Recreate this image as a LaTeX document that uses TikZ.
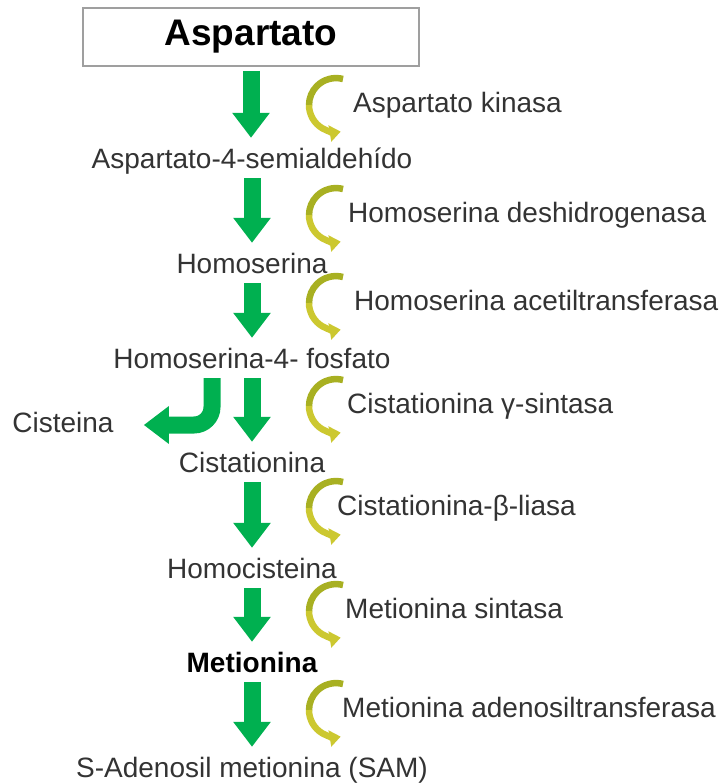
\documentclass[tikz,border=0pt]{standalone}
\usepackage{fontspec}
\setmainfont{Liberation Sans}
\usetikzlibrary{arrows.meta,calc}
\definecolor{flowgreen}{RGB}{0,176,80}
\definecolor{enzolive}{RGB}{168,176,34}
\definecolor{enzyellow}{RGB}{204,200,48}

\begin{document}
\begin{tikzpicture}[
    x=1pt, y=-1pt,
    metab/.style={inner sep=0pt, text height=20pt, text depth=6pt, text=black!80, font=\fontsize{28}{32}\selectfont},
    enz/.style={metab, anchor=base west},
    titlebox/.style={draw=gray!75, line width=1.5pt, inner sep=0pt, minimum width=336pt, minimum height=58pt, font=\fontsize{37}{42}\selectfont\bfseries},
    flow/.style={draw=flowgreen, line width=17pt, -{Triangle[length=25pt,width=36pt]}, shorten <=4pt, shorten >=10pt},
    cat/.style={line width=6.5pt},
    cattip/.style={cat, -{Triangle[length=11pt,width=16pt]}}
]
    \useasboundingbox (0,0) rectangle (725,784);

    % 节点定义 (代谢物)
    \node[titlebox] (asp) at (251,37) {Aspartato};
    \node[metab, anchor=base] (semi) at (252,168) {Aspartato-4-semialdehído};
    \node[metab, anchor=base] (hser) at (252,273) {Homoserina};
    \node[metab, anchor=base] (fosf) at (252,368) {Homoserina-4- fosfato};
    \node[metab, anchor=base] (cist) at (252,472) {Cistationina};
    \node[metab, anchor=base] (hcys) at (252,578) {Homocisteina};
    \node[metab, anchor=base, text=black, font=\fontsize{28}{32}\selectfont\bfseries] (met) at (252,672) {Metionina};
    \node[metab, anchor=base] (sam) at (252,777) {S-Adenosil metionina (SAM)};
    \node[metab, anchor=base] (cys) at (63,432) {Cisteina};

    % 酶
    \node[enz] (e1) at (353,112) {Aspartato kinasa};
    \node[enz] (e2) at (348,222) {Homoserina deshidrogenasa};
    \node[enz] (e3) at (354,310) {Homoserina acetiltransferasa};
    \node[enz] (e4) at (347,413) {Cistationina γ-sintasa};
    \node[enz] (e5) at (337,515) {Cistationina-β-liasa};
    \node[enz] (e6) at (345,618) {Metionina sintasa};
    \node[enz] (e7) at (342,717) {Metionina adenosiltransferasa};
    \coordinate (arcx) at (343,0);

    % 1. 主路径的绿色箭头
    \draw[flow] (asp.south) -- (asp.south |- semi.north);
    \draw[flow] (semi.south) -- (semi.south |- hser.north);
    \draw[flow] (hser.south) -- (hser.south |- fosf.north);
    \draw[flow] (fosf.south) -- (fosf.south |- cist.north);
    \draw[flow] (cist.south) -- (cist.south |- hcys.north);
    \draw[flow] (hcys.south) -- (hcys.south |- met.north);
    \draw[flow] (met.south) -- (met.south |- sam.north);

    % 2. 分支到 Cisteina 的弯箭头
    \draw[flow, rounded corners=18pt, shorten >=30pt] ([xshift=-40pt]fosf.south) |- (cys.east);

    % 3. 酶旁边的弯曲箭头 (上半橄榄绿, 下半黄色)
    \foreach \e in {e1,e2,e3,e4,e5,e6,e7} {
        \draw[cat, enzolive] ($(\e.west -| arcx)+(0,-26)$) arc[start angle=285, end angle=180, radius=27];
        \draw[cattip, enzyellow] ($(\e.west -| arcx)+(-34,0)$) arc[start angle=180, end angle=80, radius=27];
    }

\end{tikzpicture}
\end{document}
